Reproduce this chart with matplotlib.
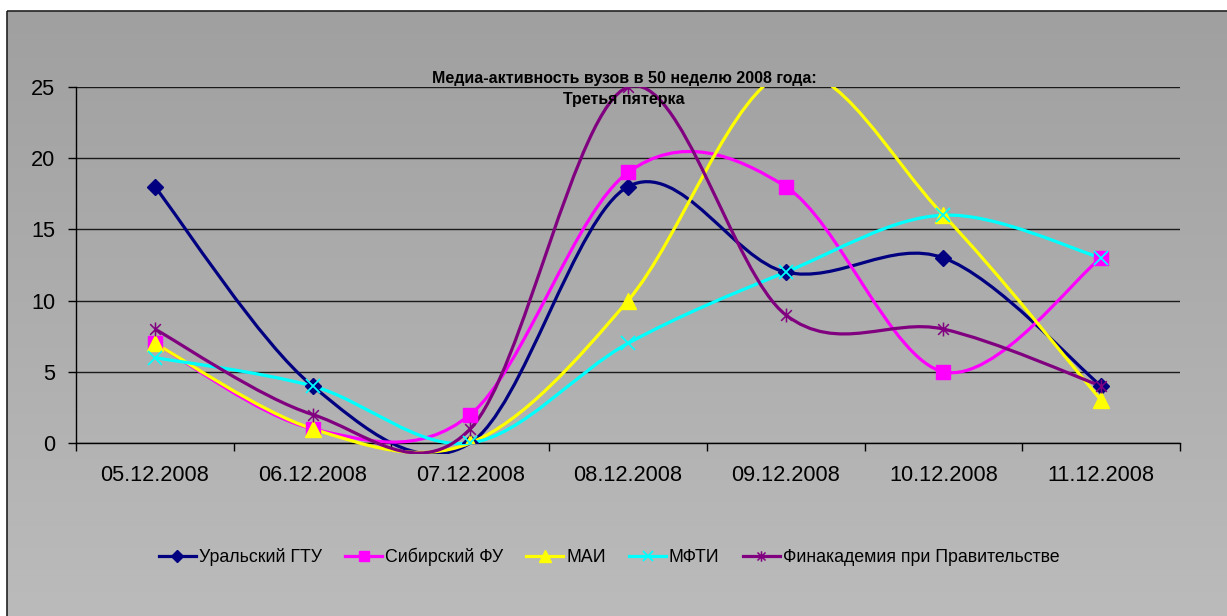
import numpy as np
import matplotlib
matplotlib.use("Agg")
import matplotlib.pyplot as plt
from matplotlib.path import Path
from matplotlib.patches import PathPatch, Rectangle
from matplotlib.lines import Line2D

plt.rcParams['font.family'] = ['Liberation Sans', 'DejaVu Sans']

dates = ['05.12.2008', '06.12.2008', '07.12.2008', '08.12.2008',
         '09.12.2008', '10.12.2008', '11.12.2008']
names = ['Уральский ГТУ', 'Сибирский ФУ', 'МАИ', 'МФТИ',
         'Финакадемия при Правительстве']
ural = [18, 4, 0, 18, 12, 13, 4]
sib = [7, 1, 2, 19, 18, 5, 13]
mai = [7, 1, 0, 10, 26, 16, 3]
mfti = [6, 4, 0, 7, 12, 16, 13]
finak = [8, 2, 1, 25, 9, 8, 4]

title = 'Медиа-активность вузов в 50 неделю 2008 года:\nТретья пятерка'

# excel-like star marker: x plus vertical bar
star = Path([(-1, -1), (1, 1), (-1, 1), (1, -1), (0, -1.3), (0, 1.3)],
            [Path.MOVETO, Path.LINETO, Path.MOVETO, Path.LINETO, Path.MOVETO, Path.LINETO])

styles = [
    dict(color='#000080', marker='D', ms=8.5, mfc='#000080', mec='#000080', mew=1),
    dict(color='#FF00FF', marker='s', ms=9.5, mfc='#FF00FF', mec='#FF00FF', mew=1),
    dict(color='#FFFF00', marker='^', ms=11, mfc='#FFFF00', mec='#FFFF00', mew=1),
    dict(color='#00FFFF', marker='x', ms=10, mfc='none', mec='#00FFFF', mew=1.3),
    dict(color='#800080', marker=star, ms=10, mfc='none', mec='#800080', mew=1.1),
]
series = [ural, sib, mai, mfti, finak]


def smooth_path(ys):
    # bezier segments like excel "smoothed line"
    p = [np.array([i, y], dtype=float) for i, y in enumerate(ys)]
    n = len(p)
    verts = [p[0]]
    codes = [Path.MOVETO]
    for i in range(n - 1):
        pm = p[i - 1] if i > 0 else p[i]
        pn = p[i + 2] if i + 2 < n else p[i + 1]
        c1 = p[i] + (p[i + 1] - pm) / 6
        c2 = p[i + 1] - (pn - p[i]) / 6
        verts += [c1, c2, p[i + 1]]
        codes += [Path.CURVE4] * 3
    return Path(verts, codes)


fig = plt.figure(figsize=(12.27, 6.16), dpi=100)
fig.patch.set_facecolor('white')

# background panel with gradient
bg = fig.add_axes([0, 0, 1, 1], zorder=0)
bg.set_xlim(0, 1227)
bg.set_ylim(616, 0)
bg.axis('off')
grad = np.linspace(0, 1, 256).reshape(-1, 1)
bg.imshow(grad, extent=(7, 1227, 616, 11), cmap=matplotlib.colors.LinearSegmentedColormap.from_list(
    'g', ['#A0A0A0', '#BBBBBB']), aspect='auto', interpolation='bilinear')
bg.add_patch(Rectangle((7, 11), 1240, 640, fill=False, ec='#222222', lw=1.2))

ax = fig.add_axes([76 / 1227, 1 - 443 / 616, (1180 - 76) / 1227, (443 - 87) / 616], zorder=1)
ax.patch.set_alpha(0)
x = np.arange(len(dates))
ax.set_xlim(-0.5, len(dates) - 0.5)
ax.set_ylim(0, 25)
ax.set_yticks([0, 5, 10, 15, 20, 25])
ax.set_xticks(x)
ax.set_xticklabels(dates)
ax.set_xticks(np.arange(-0.5, len(dates), 1), minor=True)
ax.tick_params(axis='x', which='major', length=0, pad=15.5, labelsize=15.7)
ax.tick_params(axis='x', which='minor', length=6, width=1, direction='out')
ax.tick_params(axis='y', length=6, width=1, direction='out', labelsize=15.7, pad=9)
for s in ['top', 'right']:
    ax.spines[s].set_visible(False)
for s in ['left', 'bottom']:
    ax.spines[s].set_color('black')
    ax.spines[s].set_linewidth(1)
ax.grid(axis='y', color='#1a1a1a', lw=1)
ax.set_axisbelow(True)

clip = Rectangle((0, -0.03), 1, 1.03, transform=ax.transAxes, fill=False, visible=False)
ax.add_patch(clip)

handles = []
for ys, st, nm in zip(series, styles, names):
    patch = PathPatch(smooth_path(ys), fill=False, ec=st['color'], lw=2.3, zorder=3)
    ax.add_patch(patch)
    patch.set_clip_path(clip)
    ax.plot(x, ys, ls='none', marker=st['marker'], ms=st['ms'], mfc=st['mfc'],
            mec=st['mec'], mew=st['mew'], zorder=4, clip_on=True)
    handles.append(Line2D([], [], color=st['color'], lw=2.3, marker=st['marker'],
                          ms=st['ms'] * 0.75, mfc=st['mfc'], mec=st['mec'], mew=st['mew']))

fig.text(624 / 1227, 1 - 89 / 616, title, ha='center', va='center', fontsize=11.5,
         fontweight='bold', linespacing=1.45, zorder=5)

fig.legend(handles, names, loc='center', bbox_to_anchor=(609 / 1227, 1 - 557 / 616),
           ncol=5, frameon=False, fontsize=12.8, handlelength=2.1, handletextpad=0.15,
           columnspacing=1.3)

fig.savefig('out.png', dpi=100)
